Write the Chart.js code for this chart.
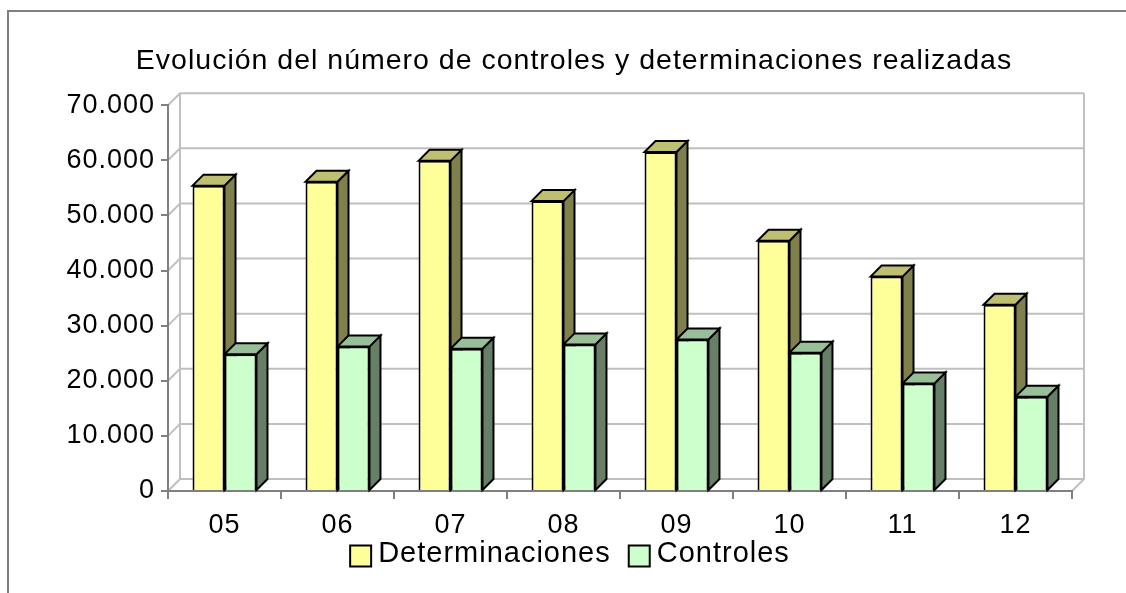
<!DOCTYPE html>
<html>
<head>
<meta charset="utf-8">
<title>Evolución del número de controles y determinaciones realizadas</title>
<script src="https://cdn.jsdelivr.net/npm/chart.js@4.4.1/dist/chart.umd.min.js"></script>
<style>
    html, body { margin: 0; padding: 0; background: #ffffff; }
    #wrap { width: 1126px; height: 593px; position: relative; }
</style>
</head>
<body>
<div id="wrap"><canvas id="myChart"></canvas></div>
<script>
// datos
var years = ['05', '06', '07', '08', '09', '10', '11', '12'];
var determinaciones = [55400, 56100, 59900, 52600, 61500, 45400, 38900, 33800];
var controles = [24800, 26200, 25800, 26600, 27500, 25100, 19500, 17100];
var yTicks = [0, 10000, 20000, 30000, 40000, 50000, 60000, 70000];

var barDepth = 11;   // profundidad de las barras
var wallDepth = 12;  // profundidad de la pared del fondo
var FONT = "'Liberation Sans', Arial, sans-serif";

function fmt(v) {
    return String(v).replace(/\B(?=(\d{3})+(?!\d))/g, '.');
}

function poly(ctx, pts, fill) {
    ctx.beginPath();
    ctx.moveTo(pts[0][0], pts[0][1]);
    for (var i = 1; i < pts.length; i++) ctx.lineTo(pts[i][0], pts[i][1]);
    ctx.closePath();
    ctx.fillStyle = fill;
    ctx.fill();
    ctx.stroke();
}

// pseudo 3D: pared del fondo, suelo y caras laterales / superiores
var fake3d = {
    id: 'fake3d',
    beforeUpdate: function(chart) {
        chart.ctx.letterSpacing = '1px';
    },
    beforeDraw: function(chart) {
        var ctx = chart.ctx;
        var a = chart.chartArea;
        var ys = chart.scales.y;
        var d = wallDepth;
        ctx.letterSpacing = '1px';
        ctx.save();
        // marco exterior
        ctx.strokeStyle = '#808080';
        ctx.lineWidth = 2;
        ctx.beginPath();
        ctx.moveTo(8, 593);
        ctx.lineTo(8, 11);
        ctx.lineTo(1126, 11);
        ctx.stroke();

        ctx.strokeStyle = '#c0c0c0';
        ctx.lineWidth = 2;
        ys.ticks.forEach(function(t) {
            var py = ys.getPixelForValue(t.value);
            ctx.beginPath();
            ctx.moveTo(a.left, py);
            ctx.lineTo(a.left + d, py - d);
            ctx.lineTo(a.right + d, py - d);
            ctx.stroke();
        });
        var top = ys.getPixelForValue(yTicks[yTicks.length - 1]);
        ctx.beginPath();
        ctx.moveTo(a.left + d, top - d);
        ctx.lineTo(a.left + d, a.bottom - d);
        ctx.moveTo(a.right + d, top - d);
        ctx.lineTo(a.right + d, a.bottom - d);
        ctx.lineTo(a.right, a.bottom);
        ctx.stroke();
        ctx.restore();
    },
    beforeDatasetsDraw: function(chart) {
        var ctx = chart.ctx;
        var d = barDepth;
        ctx.save();
        ctx.lineWidth = 2;
        ctx.strokeStyle = '#000000';
        ctx.lineJoin = 'miter';
        chart.data.datasets.forEach(function(ds, i) {
            var meta = chart.getDatasetMeta(i);
            meta.data.forEach(function(bar) {
                var p = bar.getProps(['x', 'y', 'base', 'width'], true);
                var l = p.x - p.width / 2;
                var r = p.x + p.width / 2;
                poly(ctx, [[r, p.y], [r + d, p.y - d], [r + d, p.base - d], [r, p.base]], ds.sideColor);
                poly(ctx, [[l, p.y], [l + d, p.y - d], [r + d, p.y - d], [r, p.y]], ds.topColor);
            });
        });
        ctx.restore();
    },
    // leyenda propia: cuadro pegado al texto, como en el original
    afterDraw: function(chart) {
        var ctx = chart.ctx;
        ctx.save();
        ctx.letterSpacing = '1px';
        ctx.font = '29px ' + FONT;
        ctx.textBaseline = 'middle';
        var box = 21, gap = 7, between = 18;
        var items = chart.data.datasets.map(function(ds) {
            return { text: ds.label, fill: ds.backgroundColor, w: ctx.measureText(ds.label).width };
        });
        var total = 0;
        items.forEach(function(it, i) { total += box + gap + it.w + (i ? between : 0); });
        var x = chart.width / 2 + 7 - total / 2;
        var y = 556;
        items.forEach(function(it) {
            ctx.fillStyle = it.fill;
            ctx.fillRect(x, y - box / 2, box, box);
            ctx.strokeStyle = '#000000';
            ctx.lineWidth = 2;
            ctx.strokeRect(x, y - box / 2, box, box);
            ctx.fillStyle = '#000000';
            ctx.fillText(it.text, x + box + gap, y - 2);
            x += box + gap + it.w + between;
        });
        ctx.restore();
    }
};

var ctx = document.getElementById('myChart').getContext('2d');
var myChart = new Chart(ctx, {
    type: 'bar',
    data: {
        labels: years,
        datasets: [
            {
                label: 'Determinaciones',
                data: determinaciones,
                backgroundColor: '#ffff99',
                sideColor: '#80804c',
                topColor: '#bfbf72',
                borderColor: '#000000',
                borderWidth: 2
            },
            {
                label: 'Controles',
                data: controles,
                backgroundColor: '#ccffcc',
                sideColor: '#667f66',
                topColor: '#99bf99',
                borderColor: '#000000',
                borderWidth: 2
            }
        ]
    },
    options: {
        responsive: true,
        maintainAspectRatio: false,
        animation: false,
        layout: { padding: { left: 22, right: 0, top: 11, bottom: 50 } },
        datasets: { bar: { categoryPercentage: 0.566, barPercentage: 1.0 } },
        plugins: {
            title: {
                display: true,
                text: 'Evolución del número de controles y determinaciones realizadas',
                color: '#000000',
                font: { family: FONT, size: 28.5, weight: 'normal' },
                padding: { top: 33, bottom: 27 }
            },
            legend: { display: false },
            tooltip: { enabled: false }
        },
        scales: {
            x: {
                afterFit: function(scale) {
                    scale.height = 52;
                },
                grid: {
                    display: true,
                    drawOnChartArea: false,
                    tickLength: 8,
                    color: '#808080',
                    lineWidth: 2
                },
                border: { display: true, color: '#808080', width: 2 },
                ticks: {
                    color: '#000000',
                    font: { family: FONT, size: 27 },
                    padding: 10
                }
            },
            y: {
                min: 0,
                max: 70000,
                afterBuildTicks: function(axis) {
                    axis.ticks = yTicks.map(function(v) { return { value: v }; });
                },
                afterFit: function(scale) {
                    scale.width = 146;
                },
                grid: {
                    display: true,
                    drawOnChartArea: false,
                    tickLength: 7,
                    color: '#808080',
                    lineWidth: 2
                },
                border: { display: true, color: '#808080', width: 2 },
                ticks: {
                    color: '#000000',
                    font: { family: FONT, size: 27 },
                    padding: 6,
                    callback: function(v) { return fmt(v); }
                }
            },
            // eje vacio a la derecha, solo reserva el hueco de la pared
            yRight: {
                type: 'linear',
                position: 'right',
                display: true,
                afterFit: function(scale) {
                    scale.width = 54;
                },
                grid: { display: false },
                border: { display: false },
                ticks: { display: false }
            }
        }
    },
    plugins: [fake3d]
});
</script>
</body>
</html>
